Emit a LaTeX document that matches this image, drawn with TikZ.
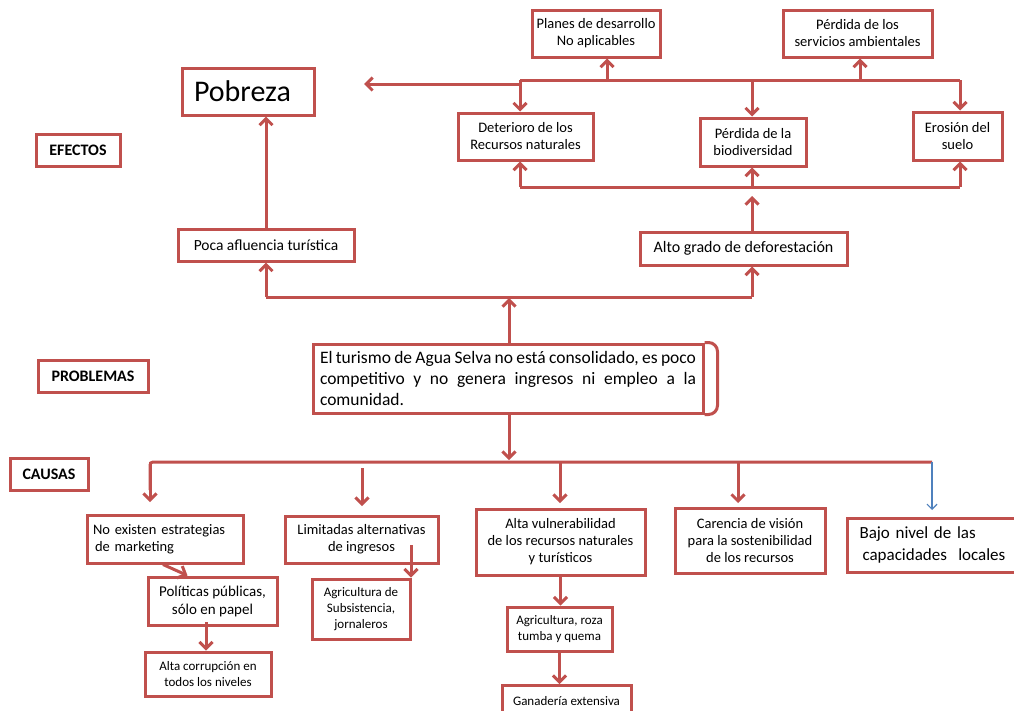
\documentclass[tikz,border=0pt]{standalone}
\usepackage{fontspec}
\setmainfont{Carlito}
\usetikzlibrary{arrows.meta}
\hyphenpenalty=10000
\exhyphenpenalty=10000
\definecolor{rd}{HTML}{C0504D}
\definecolor{bl}{HTML}{4F81BD}
\tikzset{
  box/.style={draw=rd, line width=3pt, fill=white, align=center, inner sep=2pt, font=\fontsize{14.5}{17}\selectfont},
  small/.style={font=\fontsize{13}{16}\selectfont},
  lbl/.style={box, font=\fontsize{16}{19}\selectfont\bfseries},
  line/.style={draw=rd, line width=3pt},
  arr/.style={line, -{Straight Barb[length=6.5pt,width=13pt]}},
  bluearr/.style={draw=bl, line width=1.2pt, -{Straight Barb[length=5pt,width=10pt]}}
}
\begin{document}
\begin{tikzpicture}[x=1pt,y=-1pt]
\useasboundingbox (0,0) rectangle (1014,710);
\fill[white] (0,0) rectangle (1014,710);

% effects
\node[box, minimum width=128, minimum height=47] (plan) at (596,33.5) {Planes de desarrollo\\No aplicables};
\node[box, minimum width=149, minimum height=47] (serv) at (857.5,33.5) {Pérdida de los\\servicios ambientales};
\node[box, minimum width=132, minimum height=47, inner xsep=12pt, text width=108pt, align=left, font=\fontsize{30}{34}\selectfont] (pob) at (248,91.5) {Pobreza};
\node[box, minimum width=135, minimum height=47] (det) at (525.5,136.5) {Deterioro de los\\Recursos naturales};
\node[box, minimum width=106, minimum height=48] (bio) at (753,142) {Pérdida de la\\biodiversidad};
\node[box, minimum width=89, minimum height=48] (ero) at (957.5,136) {Erosión del\\suelo};
\node[lbl, minimum width=84, minimum height=32] (efe) at (78,150) {EFECTOS};
\node[box, minimum width=207, minimum height=33, font=\fontsize{16}{19}\selectfont] (alto) at (743.5,248.5) {Alto grado de deforestación};
\node[box, minimum width=176, minimum height=32, font=\fontsize{15.5}{18}\selectfont] (poca) at (266,245) {Poca afluencia turística};

% problem
\node[lbl, minimum width=110, minimum height=32] (probl) at (93,376) {PROBLEMAS};
\node[box, minimum width=390, minimum height=69, text width=376pt, align=justify, font=\fontsize{17.5}{21}\selectfont] (prob) at (508,378.5) {El turismo de Agua Selva no está consolidado, es poco\linebreak competitivo y no genera ingresos ni empleo a la\linebreak comunidad.};
\draw[line, rounded corners=9pt] (prob.north east) -- ([xshift=13pt]prob.north east) -- ([xshift=13pt]prob.south east) -- (prob.south east);

% causes
\node[lbl, minimum width=78, minimum height=32] (caus) at (49,474) {CAUSAS};
\node[box, minimum width=156, minimum height=48, text width=144pt, align=left] (noex) at (165,539) {No existen estrategias\\\hspace*{2pt}de marketing};
\node[box, minimum width=153, minimum height=47] (lim) at (361.5,539.5) {Limitadas alternativas\\de ingresos};
\node[box, minimum width=169, minimum height=66] (vul) at (560.5,542) {Alta vulnerabilidad\\de los recursos naturales\\y turísticos};
\node[box, minimum width=150, minimum height=65] (car) at (750,540.5) {Carencia de visión\\para la sostenibilidad\\de los recursos};
\node[box, anchor=west, minimum width=190, minimum height=54, inner xsep=12pt, text width=166pt, align=left, font=\fontsize{17}{22}\selectfont] (bajo) at (846,545) {Bajo nivel de las\\\hspace*{3pt}capacidades\ \ locales};
\node[box, minimum width=129, minimum height=48, font=\fontsize{15}{18}\selectfont] (pol) at (212.5,601) {Políticas públicas,\\sólo en papel};
\node[box, small, minimum width=98, minimum height=60] (agsub) at (361,609) {Agricultura de\\Subsistencia,\\jornaleros};
\node[box, small, minimum width=126, minimum height=44] (corr) at (208,674) {Alta corrupción en\\todos los niveles};
\node[box, small, minimum width=105, minimum height=44] (roza) at (559.5,629) {Agricultura, roza\\tumba y quema};
\node[box, small, minimum width=129, minimum height=34, anchor=north] (gan) at (566.5,684) {\raisebox{4pt}{Ganadería extensiva}};

% top bus
\coordinate (tL) at (520,80); \coordinate (tR) at (960,80);
\coordinate (tM) at (752,80); \coordinate (tP) at (607,80); \coordinate (tS) at (860,80);
\draw[line] (tL) -- (tR);
\draw[arr] (tL) -- (tL |- det.north);
\draw[arr] (tM) -- (tM |- bio.north);
\draw[arr] (tR) -- (tR |- ero.north);
\draw[arr] (tP) -- (tP |- plan.south);
\draw[arr] (tS) -- (tS |- serv.south);
\coordinate (pA) at (520,84); \coordinate (pB) at (364,84);
\draw[arr] (pA) -- (pB);

% bottom bus of effects
\coordinate (bL) at (520,187); \coordinate (bR) at (960,187); \coordinate (bM) at (752,187);
\draw[line] (bL) -- (bR);
\draw[arr] (bL) -- (bL |- det.south);
\draw[arr] (bM) -- (bM |- bio.south);
\draw[arr] (bR) -- (bR |- ero.south);
\coordinate (aT) at (752,196);
\draw[arr] (alto.north -| aT) -- (aT);

% poca -> pobreza
\draw[arr] (poca.north) -- (poca.north |- pob.south);

% middle bus
\coordinate (mL) at (266,297); \coordinate (mR) at (752,297); \coordinate (mP) at (509,298);
\draw[line] (mL) -- (mR);
\draw[arr] (mL) -- (mL |- poca.south);
\draw[arr] (mR) -- (mR |- alto.south);
\draw[arr] (prob.north -| mP) -- (mP);

% causes bus
\coordinate (cP) at (509,460);
\draw[arr] (prob.south -| cP) -- (cP);
\coordinate (c1) at (150,462); \coordinate (c5) at (932,462);
\draw[line, rounded corners=3pt] (c1 |- 0,490) -- (c1) -- (c5);
\draw[arr] (c1) -- (150,502);
\draw[arr] (362,468) -- (362,506);
\draw[arr] (560,462) -- (560,503);
\draw[arr] (738,462) -- (738,503);
\draw[bluearr] (c5) -- (932,510);

% sub causes
\draw[arr] ([xshift=-2pt]noex.south) -- ([xshift=-25pt]pol.north);
\coordinate (lq) at (411,545);
\draw[arr] (lq) -- (lq |- agsub.north);
\coordinate (pc) at (206,622);
\draw[arr] (pc) -- (pc |- corr.north);
\draw[arr] (vul.south) -- (vul.south |- roza.north);
\draw[arr] (roza.south) -- (roza.south |- gan.north);
\end{tikzpicture}
\end{document}
